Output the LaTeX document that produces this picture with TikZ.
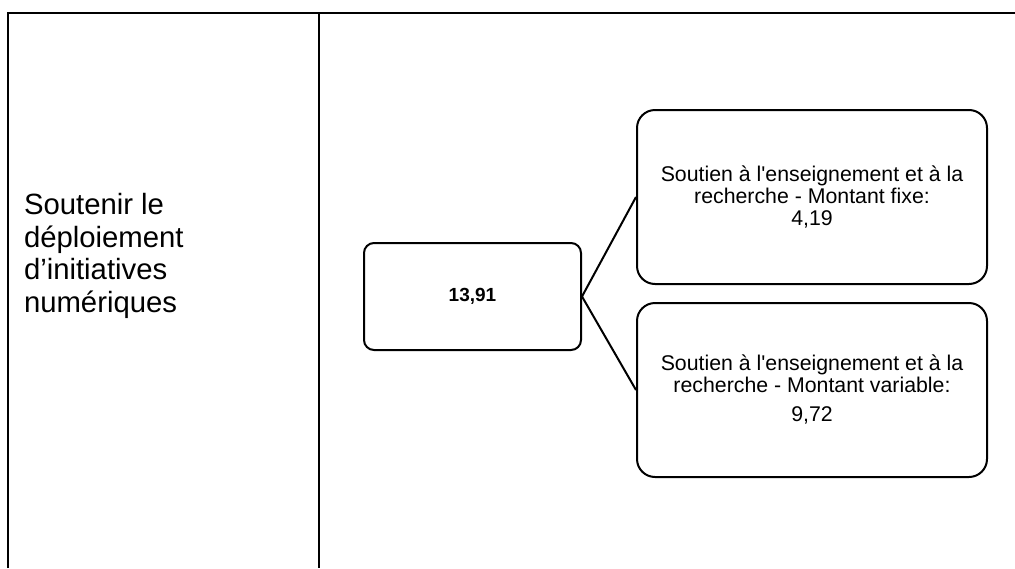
\documentclass[tikz,border=0pt]{standalone}
\usepackage{fontspec}
\setmainfont{Liberation Sans}[Ligatures=TeXOff]
\usetikzlibrary{positioning}
\newcommand{\boxFont}[0]{\fontsize{21.3}{22}\selectfont}

\begin{document}
\begin{tikzpicture}[x=1pt, y=-1pt, line width=2pt]
  \tikzset{
    amount/.style={draw, rounded corners=10pt, align=center,
      minimum width=217pt, minimum height=107pt, inner sep=0pt},
    detail/.style={draw, rounded corners=18pt, align=center,
      minimum width=350pt, minimum height=174pt, inner sep=0pt},
  }
  \useasboundingbox (0,0) rectangle (1015,568);
  % table frame
  \draw (8,568) -- (8,12.5) -- (1015,12.5);
  \draw (319,12.5) -- (319,568);
  \node[anchor=west, align=left, inner sep=0pt, font=\fontsize{29.3}{32.5}\selectfont] (objectif) at (23,256)
    {Soutenir le\\d\'eploiement\\d’initiatives\\num\'eriques};
  % tree
  \node[amount, font=\fontsize{19}{22}\selectfont\bfseries] (total) at (472.5,296.5) {13,91};
  \node[detail, font=\boxFont] (fixe) at (812,197)
    {Soutien \`a l'enseignement et \`a la\\recherche - Montant fixe:\\4,19};
  \node[detail, font=\boxFont, below=17pt of fixe] (variable)
    {Soutien \`a l'enseignement et \`a la\\recherche - Montant variable:\\[7pt]9,72};
  \draw (total.east) -- (fixe.west);
  \draw (total.east) -- (variable.west);
\end{tikzpicture}
\end{document}
